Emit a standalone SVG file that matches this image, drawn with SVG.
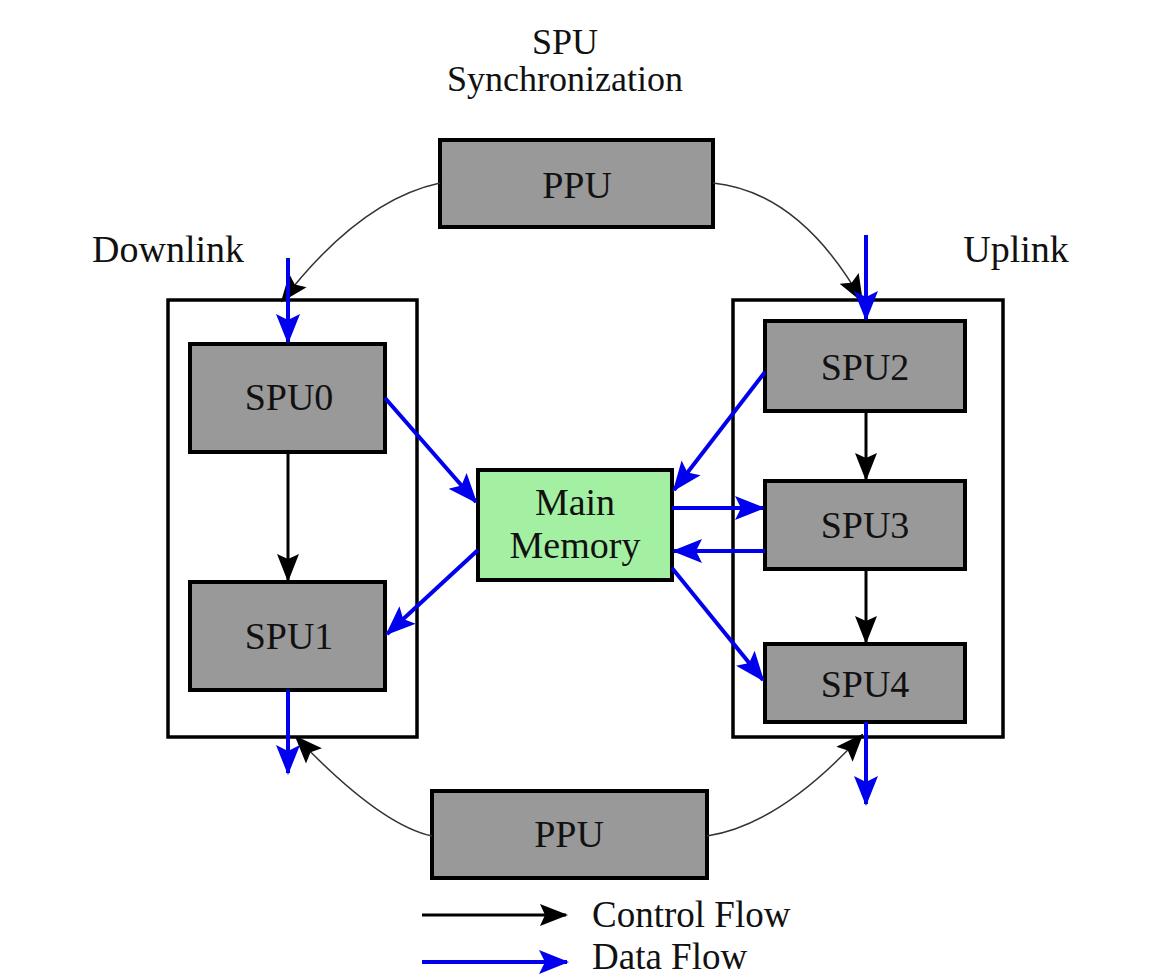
<svg xmlns="http://www.w3.org/2000/svg" width="1151" height="979" viewBox="0 0 1151 979">
<style>
text{font-family:"Liberation Serif","Times New Roman",serif;font-size:38px;fill:#111;text-anchor:middle}
.box{fill:#999;stroke:#000;stroke-width:4}
.cont{fill:none;stroke:#000;stroke-width:3.5}
.mem{fill:#a3f0a3;stroke:#000;stroke-width:4}
.ctl{fill:none;stroke:#000;stroke-width:3;marker-end:url(#ab)}
.ppuc{fill:none;stroke:#333;stroke-width:1.5;marker-end:url(#ab)}
.dat{fill:none;stroke:#0000ee;stroke-width:4;marker-end:url(#au)}
</style>
<defs>
<marker id="ab" markerUnits="userSpaceOnUse" viewBox="0 0 28 24" markerWidth="28" markerHeight="24" refX="26" refY="12" orient="auto"><path d="M0,1 L28,12 L0,23 L5,12 Z" fill="#000"/></marker>
<marker id="au" markerUnits="userSpaceOnUse" viewBox="0 0 30 26" markerWidth="30" markerHeight="26" refX="28" refY="13" orient="auto"><path d="M0,1 L30,13 L0,25 L6,13 Z" fill="#0000ee"/></marker>
</defs>
<rect width="1151" height="979" fill="#fff"/>
<g id="title"><text x="565" y="54" style="font-size:36px">SPU</text><text x="565" y="91" style="font-size:36px">Synchronization</text></g>
<g id="labels"><text x="168" y="262">Downlink</text><text x="1016" y="262">Uplink</text></g>
<g id="downlink"><rect class="cont" x="168" y="300" width="249" height="437"/></g>
<g id="uplink"><rect class="cont" x="733" y="300" width="270" height="437"/></g>
<g id="ppu-top"><rect class="box" x="440" y="140" width="273" height="87"/><text x="577" y="198">PPU</text></g>
<g id="spu0"><rect class="box" x="190" y="344" width="195" height="108"/><text x="289" y="410">SPU0</text></g>
<g id="spu1"><rect class="box" x="190" y="582" width="195" height="108"/><text x="289" y="649">SPU1</text></g>
<g id="spu2"><rect class="box" x="765" y="321" width="200" height="90"/><text x="865" y="380">SPU2</text></g>
<g id="spu3"><rect class="box" x="765" y="481" width="200" height="88"/><text x="865" y="538">SPU3</text></g>
<g id="spu4"><rect class="box" x="765" y="644" width="200" height="78"/><text x="865" y="697">SPU4</text></g>
<g id="main-memory"><rect class="mem" x="478" y="470" width="194" height="110"/><text x="575" y="515">Main</text><text x="575" y="558">Memory</text></g>
<g id="ppu-bottom"><rect class="box" x="432" y="791" width="275" height="87"/><text x="569" y="847">PPU</text></g>
<g id="connectors">
<path class="ppuc" d="M440,183 Q360,200 282,301"/>
<path class="ppuc" d="M713,183 Q800,192 862,301"/>
<path class="ppuc" d="M432,836 Q380,825 296,737"/>
<path class="ppuc" d="M707,836 Q780,825 862,735"/>
<path class="ctl" d="M288,452 L288,580"/>
<path class="ctl" d="M866,411 L866,479"/>
<path class="ctl" d="M866,569 L866,642"/>
<path class="dat" d="M288,258 L288,342"/>
<path class="dat" d="M866,235 L866,319"/>
<path class="dat" d="M385,398 L476,502"/>
<path class="dat" d="M765,372 L674,490"/>
<path class="dat" d="M672,508 L763,508"/>
<path class="dat" d="M765,551 L674,551"/>
<path class="dat" d="M672,568 L763,680"/>
<path class="dat" d="M478,550 L387,634"/>
<path class="dat" d="M288,690 L288,773"/>
<path class="dat" d="M866,722 L866,804"/>
</g>
<g id="legend">
<path class="ctl" d="M422,915 L566,915"/>
<path class="dat" d="M422,962 L567,962"/>
<text x="592" y="927" style="text-anchor:start;font-size:37px">Control  Flow</text>
<text x="592" y="969" style="text-anchor:start;font-size:37px">Data Flow</text>
</g>
</svg>
